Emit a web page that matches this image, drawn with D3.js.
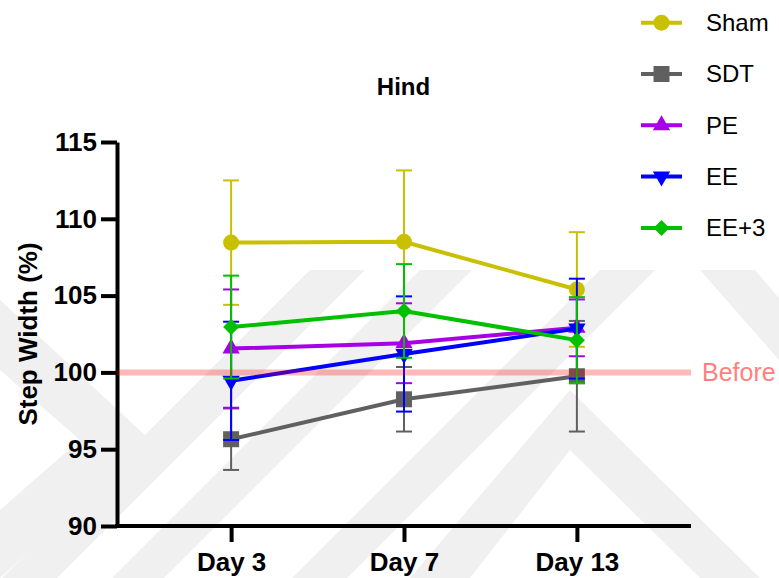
<!DOCTYPE html>
<html>
<head>
<meta charset="utf-8">
<script src="https://cdn.jsdelivr.net/npm/d3@7"></script>
<style>
  body { margin: 0; background: #fff; }
  svg { font-family: "Liberation Sans", Arial, sans-serif; }
</style>
</head>
<body>
<div id="svg-container"></div>
<script>
// data (mean and SD)
const days = ["Day 3", "Day 7", "Day 13"];
const groups = ["Sham", "SDT", "PE", "EE", "EE+3"];
const shamMean = [108.45, 108.5, 105.4];
const shamSD = [4.05, 4.65, 3.73];
const sdtMean = [95.65, 98.25, 99.75];
const sdtSD = [2.0, 2.1, 3.6];
const peMean = [101.55, 101.9, 102.9];
const peSD = [3.85, 2.6, 1.85];
const eeMean = [99.45, 101.2, 102.85];
const eeSD = [3.85, 3.75, 3.25];
const ee3Mean = [102.95, 104.0, 102.1];
const ee3SD = [3.35, 3.05, 2.8];
const yTicks = [90, 95, 100, 105, 110, 115];
const beforeValue = 100;

const width = 779, height = 578;

const svg = d3.select('#svg-container')
  .append('svg').attr('width', width).attr('height', height);

// faint background watermark
const wm = svg.append('g').attr('fill', '#f0f0f0');
const bands = [
  [[0, 300], [150, 440], [0, 578], [0, 510], [80, 440], [0, 370]],
  [[310, 270], [365, 270], [57, 578], [2, 578]],
  [[420, 270], [472, 270], [164, 578], [112, 578]],
  [[600, 270], [655, 270], [347, 578], [292, 578]],
  [[700, 270], [755, 270], [779, 298], [779, 360]],
  [[570, 390], [760, 578], [700, 578], [570, 450], [470, 578], [410, 578]]
];
wm.selectAll('polygon').data(bands).enter().append('polygon')
  .attr('points', d => d.map(p => p.join(',')).join(' '));

const x = d3.scalePoint().domain(days).range([117, 691]).padding(0.66);
const y = d3.scaleLinear().domain([90, 115]).range([526, 142]);

const series = [
  { name: groups[0], mean: shamMean, sd: shamSD, color: '#c8c000', symbol: d3.symbolCircle, size: 201, rot: 0 },
  { name: groups[1], mean: sdtMean, sd: sdtSD, color: '#606060', symbol: d3.symbolSquare, size: 256, rot: 0 },
  { name: groups[2], mean: peMean, sd: peSD, color: '#a800e6', symbol: d3.symbolTriangle, size: 130, rot: 0 },
  { name: groups[3], mean: eeMean, sd: eeSD, color: '#0000ff', symbol: d3.symbolTriangle, size: 130, rot: 180 },
  { name: groups[4], mean: ee3Mean, sd: ee3SD, color: '#00c000', symbol: d3.symbolSquare, size: 128, rot: 45 }
];

// axes
const xAxis = svg.append('g')
  .attr('transform', `translate(0, ${y(90)})`)
  .call(d3.axisBottom(x).tickSize(16).tickSizeOuter(0).tickPadding(11));
const yAxis = svg.append('g')
  .attr('transform', `translate(${x.range()[0]}, 0)`)
  .call(d3.axisLeft(y).tickValues(yTicks).tickSize(16).tickSizeOuter(0).tickPadding(4));

[xAxis, yAxis].forEach(a => {
  a.selectAll('path, line').attr('stroke', '#000').attr('stroke-width', 4);
  a.selectAll('text').attr('fill', '#000')
    .style('font-size', '26px').style('font-weight', 'bold');
});
xAxis.select('.domain').attr('d', `M${x.range()[0] - 2},0H${x.range()[1]}`);

// lines, error bars and markers
series.forEach(s => {
  const g = svg.append('g');
  const pts = days.map((d, i) => ({ day: d, m: s.mean[i], e: s.sd[i] }));
  g.append('path').datum(pts)
    .attr('fill', 'none').attr('stroke', s.color).attr('stroke-width', 4)
    .attr('d', d3.line().x(d => x(d.day)).y(d => y(d.m)));
  const eb = g.selectAll('.err').data(pts).enter().append('g')
    .attr('stroke', s.color).attr('stroke-width', 2);
  eb.append('line')
    .attr('x1', d => x(d.day)).attr('x2', d => x(d.day))
    .attr('y1', d => y(d.m + d.e)).attr('y2', d => y(d.m - d.e));
  eb.append('line')
    .attr('x1', d => x(d.day) - 8).attr('x2', d => x(d.day) + 8)
    .attr('y1', d => y(d.m + d.e)).attr('y2', d => y(d.m + d.e));
  eb.append('line')
    .attr('x1', d => x(d.day) - 8).attr('x2', d => x(d.day) + 8)
    .attr('y1', d => y(d.m - d.e)).attr('y2', d => y(d.m - d.e));
  g.selectAll('.mk').data(pts).enter().append('path')
    .attr('fill', s.color)
    .attr('transform', d => `translate(${x(d.day)}, ${y(d.m)}) rotate(${s.rot})`)
    .attr('d', d3.symbol().type(s.symbol).size(s.size));
});

// "Before" reference line
svg.append('line')
  .attr('x1', x.range()[0]).attr('x2', x.range()[1])
  .attr('y1', y(beforeValue)).attr('y2', y(beforeValue))
  .attr('stroke', 'red').attr('stroke-opacity', 0.28).attr('stroke-width', 6);
svg.append('text')
  .attr('x', 702).attr('y', y(beforeValue)).attr('dy', '0.35em')
  .attr('fill', '#ff8080').style('font-size', '25px')
  .text('Before');

// title and y label
svg.append('text')
  .attr('x', 403.5).attr('y', 95).attr('text-anchor', 'middle')
  .style('font-size', '24px').style('font-weight', 'bold')
  .text('Hind');
svg.append('text')
  .attr('transform', `translate(37, ${(y(90) + y(115)) / 2}) rotate(-90)`)
  .attr('text-anchor', 'middle')
  .style('font-size', '26px').style('font-weight', 'bold')
  .text('Step Width (%)');

// legend
const legend = svg.append('g');
series.forEach((s, i) => {
  const ly = 22.7 + i * 51.3;
  legend.append('line')
    .attr('x1', 641).attr('x2', 682).attr('y1', ly).attr('y2', ly)
    .attr('stroke', s.color).attr('stroke-width', 4);
  legend.append('path')
    .attr('fill', s.color)
    .attr('transform', `translate(661.5, ${ly}) rotate(${s.rot})`)
    .attr('d', d3.symbol().type(s.symbol).size(s.size));
  legend.append('text')
    .attr('x', 706).attr('y', ly).attr('dy', '0.35em')
    .style('font-size', '24px')
    .text(s.name);
});
</script>
</body>
</html>
